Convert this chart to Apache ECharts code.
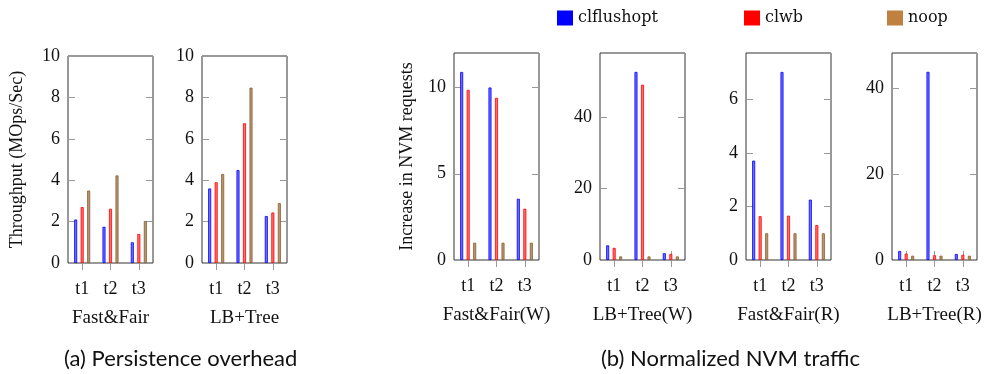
<!DOCTYPE html>
<html>
<head>
<meta charset="utf-8">
<script src="https://cdn.jsdelivr.net/npm/echarts@6/dist/echarts.min.js"></script>
<style>
  html, body { margin: 0; padding: 0; background: #fff; }
  #chart { width: 989px; height: 374px; }
</style>
</head>
<body>
<div id="chart"></div>
<script>
// categories and series
const categories = ['t1', 't2', 't3'];
const seriesNames = ['clflushopt', 'clwb', 'noop'];

// values per panel: [clflushopt, clwb, noop], each t1..t3
const ffThroughput = [[2.1, 1.75, 1.0], [2.7, 2.62, 1.4], [3.5, 4.23, 2.03]];
const lbThroughput = [[3.6, 4.49, 2.27], [3.9, 6.75, 2.44], [4.3, 8.47, 2.89]];
const ffWrite = [[10.9, 10.0, 3.55], [9.86, 9.4, 2.97], [1.0, 1.0, 1.0]];
const lbWrite = [[4.1, 52.7, 1.9], [3.4, 49.1, 1.7], [1.0, 1.0, 1.0]];
const ffRead = [[3.72, 7.04, 2.26], [1.64, 1.66, 1.31], [1.0, 1.0, 1.0]];
const lbRead = [[2.1, 43.9, 1.4], [1.5, 1.1, 1.2], [1.0, 1.0, 1.0]];

const fillColors = ['#6f6fff', '#ff6f6f', '#b89878'];
const lineColors = ['#0000ff', '#ff0000', '#8a5a2a'];
const legendColors = ['#0000ff', '#ff0000', '#bf8040'];

const serif = 'Liberation Serif';
const sans = 'Lato';

// panel layout
const panels = [
  { left: 68, top: 56, title: 'Fast&Fair', data: ffThroughput, max: 10, interval: 2,
    yName: 'Throughput (MOps/Sec)', nameGap: 42 },
  { left: 202, top: 56, title: 'LB+Tree', data: lbThroughput, max: 10, interval: 2 },
  { left: 454, top: 53, title: 'Fast&Fair(W)', data: ffWrite, max: 12, interval: 5,
    yName: 'Increase in NVM requests', nameGap: 38, hideMax: true },
  { left: 600, top: 53, title: 'LB+Tree(W)', data: lbWrite, max: 58, interval: 20, hideMax: true },
  { left: 746, top: 53, title: 'Fast&Fair(R)', data: ffRead, max: 7.75, interval: 2, hideMax: true },
  { left: 892, top: 53, title: 'LB+Tree(R)', data: lbRead, max: 48.3, interval: 20, hideMax: true }
];

const chart = echarts.init(document.getElementById('chart'));

const grid = [], xAxis = [], yAxis = [], series = [];

panels.forEach((p, i) => {
  grid.push({
    left: p.left, top: p.top, width: 85, height: 207,
    show: true, borderColor: '#333', borderWidth: 1, backgroundColor: 'transparent'
  });
  // bottom x axis
  xAxis.push({
    type: 'category', gridIndex: i, data: categories, position: 'bottom',
    axisLine: { show: false },
    axisTick: { show: true, alignWithLabel: true, length: 7, lineStyle: { color: '#999' } },
    axisLabel: { color: '#111', fontFamily: serif, fontSize: 18, margin: 17 },
    name: p.title, nameLocation: 'middle', nameGap: 46,
    nameTextStyle: { color: '#111', fontFamily: serif, fontSize: 19 }
  });
  // top x axis (ticks only)
  xAxis.push({
    type: 'category', gridIndex: i, data: categories, position: 'top',
    axisLine: { show: false },
    axisTick: { show: true, alignWithLabel: true, length: 9, lineStyle: { color: '#999' } },
    axisLabel: { show: false }
  });
  // left y axis
  yAxis.push({
    type: 'value', gridIndex: i, min: 0, max: p.max, interval: p.interval, position: 'left',
    axisLine: { show: false },
    splitLine: { show: false },
    axisTick: { show: true, inside: true, length: 7, lineStyle: { color: '#999' } },
    axisLabel: { color: '#111', fontFamily: serif, fontSize: 18, margin: 8,
      showMaxLabel: p.hideMax ? false : true },
    name: p.yName || '', nameLocation: 'middle', nameGap: p.nameGap || 30,
    nameTextStyle: { color: '#111', fontFamily: serif, fontSize: 18 }
  });
  // right y axis (ticks only)
  yAxis.push({
    type: 'value', gridIndex: i, min: 0, max: p.max, interval: p.interval, position: 'right',
    axisLine: { show: false },
    splitLine: { show: false },
    axisTick: { show: true, inside: true, length: 7, lineStyle: { color: '#999' } },
    axisLabel: { show: false }
  });

  p.data.forEach((vals, k) => {
    series.push({
      name: seriesNames[k], type: 'bar',
      xAxisIndex: i * 2, yAxisIndex: i * 2,
      data: vals,
      barWidth: 3, barGap: '117%',
      itemStyle: { color: fillColors[k], borderColor: lineColors[k], borderWidth: 0.8 },
      emphasis: { disabled: true },
      animation: false
    });
  });
});

const legendLefts = [557, 744, 887];
const legend = seriesNames.map((n, k) => ({
  data: [{ name: n, itemStyle: { color: legendColors[k], borderWidth: 0 } }],
  left: legendLefts[k], top: 10, padding: 0,
  icon: 'rect', itemWidth: 16, itemHeight: 15, itemGap: 6,
  textStyle: { color: '#111', fontFamily: 'DejaVu Serif', fontSize: 16, fontWeight: 'normal' },
  selectedMode: false
}));

const option = {
  animation: false,
  grid: grid,
  xAxis: xAxis,
  yAxis: yAxis,
  series: series,
  legend: legend,
  graphic: [
    { type: 'text', left: 64, top: 348,
      style: { text: '(a) Persistence overhead', fill: '#111', font: '22px ' + sans } },
    { type: 'text', left: 601, top: 348,
      style: { text: '(b) Normalized NVM traffic', fill: '#111', font: '22px ' + sans } }
  ]
};

chart.setOption(option);
</script>
</body>
</html>
